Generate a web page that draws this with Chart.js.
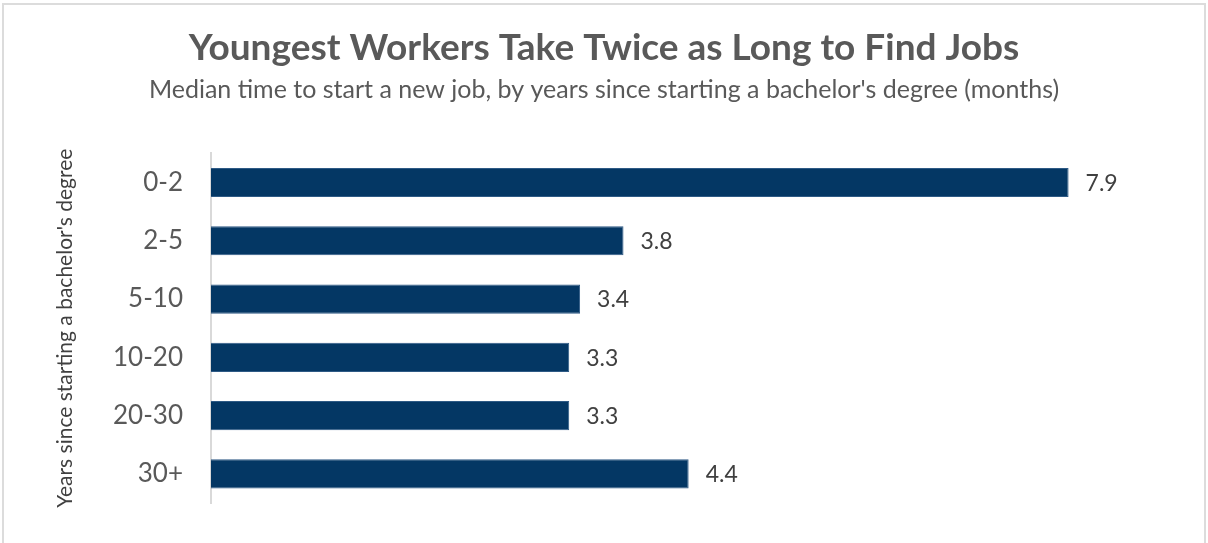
<!DOCTYPE html>
<html>
<head>
<meta charset="utf-8">
<script src="https://cdn.jsdelivr.net/npm/chart.js@4.4.1/dist/chart.umd.min.js"></script>
<style>
  html, body { margin: 0; padding: 0; background: #fff; }
  #wrap { position: relative; width: 1208px; height: 543px; overflow: hidden; }
  #frame { position: absolute; left: 2px; top: 3px; right: 2px; bottom: -6px; border: 2px solid #dcdcdc; pointer-events: none; }
</style>
</head>
<body>
<div id="wrap">
  <canvas id="chart" width="1208" height="543"></canvas>
  <div id="frame"></div>
</div>
<script>
// Chart data
const categories = ['0-2', '2-5', '5-10', '10-20', '20-30', '30+'];
const medianMonths = [7.9, 3.8, 3.4, 3.3, 3.3, 4.4];

const FONT = "'Source Sans Pro', Lato, 'Open Sans', sans-serif";

// draws the value next to each bar
const valueLabels = {
  id: 'valueLabels',
  afterDatasetsDraw(chart){
    const ctx = chart.ctx;
    const meta = chart.getDatasetMeta(0);
    ctx.save();
    ctx.font = '23px ' + FONT;
    ctx.fillStyle = '#404040';
    ctx.textAlign = 'left';
    ctx.textBaseline = 'middle';
    meta.data.forEach((bar, i) => {
      ctx.fillText(medianMonths[i].toFixed(1), bar.x + 17, bar.y + 1);
    });
    ctx.restore();
  }
};

new Chart(document.getElementById('chart'), {
  type: 'bar',
  data: {
    labels: categories,
    datasets: [{
      data: medianMonths,
      backgroundColor: '#043764',
      borderColor: '#2e5a85',
      borderWidth: 1,
      barPercentage: 0.5,
      categoryPercentage: 1
    }]
  },
  options: {
    indexAxis: 'y',
    responsive: false,
    animation: false,
    layout: { padding: { left: 20, right: 20, top: 0, bottom: 40 } },
    scales: {
      x: { display: false, min: 0, max: 9 },
      y: {
        grid: { display: false, drawTicks: false },
        border: { display: true, color: '#d9d9d9', width: 2 },
        ticks: { color: '#595959', font: { family: FONT, size: 26 }, padding: 28 },
        title: { display: true, text: "Years since starting a bachelor's degree", color: '#404040', font: { family: FONT, size: 21 }, padding: { top: 33, bottom: 0 } },
        afterFit(scale){
          scale.width = 191;
          scale.paddingTop = 0;
          scale.paddingBottom = 0;
        }
      }
    },
    plugins: {
      legend: { display: false },
      tooltip: { enabled: false },
      title: {
        display: true,
        text: 'Youngest Workers Take Twice as Long to Find Jobs',
        color: '#595959',
        font: { family: FONT, size: 37, weight: 'bold' },
        padding: { top: 26, bottom: 5 }
      },
      subtitle: {
        display: true,
        text: "Median time to start a new job, by years since starting a bachelor's degree (months)",
        color: '#595959',
        font: { family: FONT, size: 25 },
        padding: { top: 0, bottom: 48 }
      }
    }
  },
  plugins: [valueLabels]
});
</script>
</body>
</html>
